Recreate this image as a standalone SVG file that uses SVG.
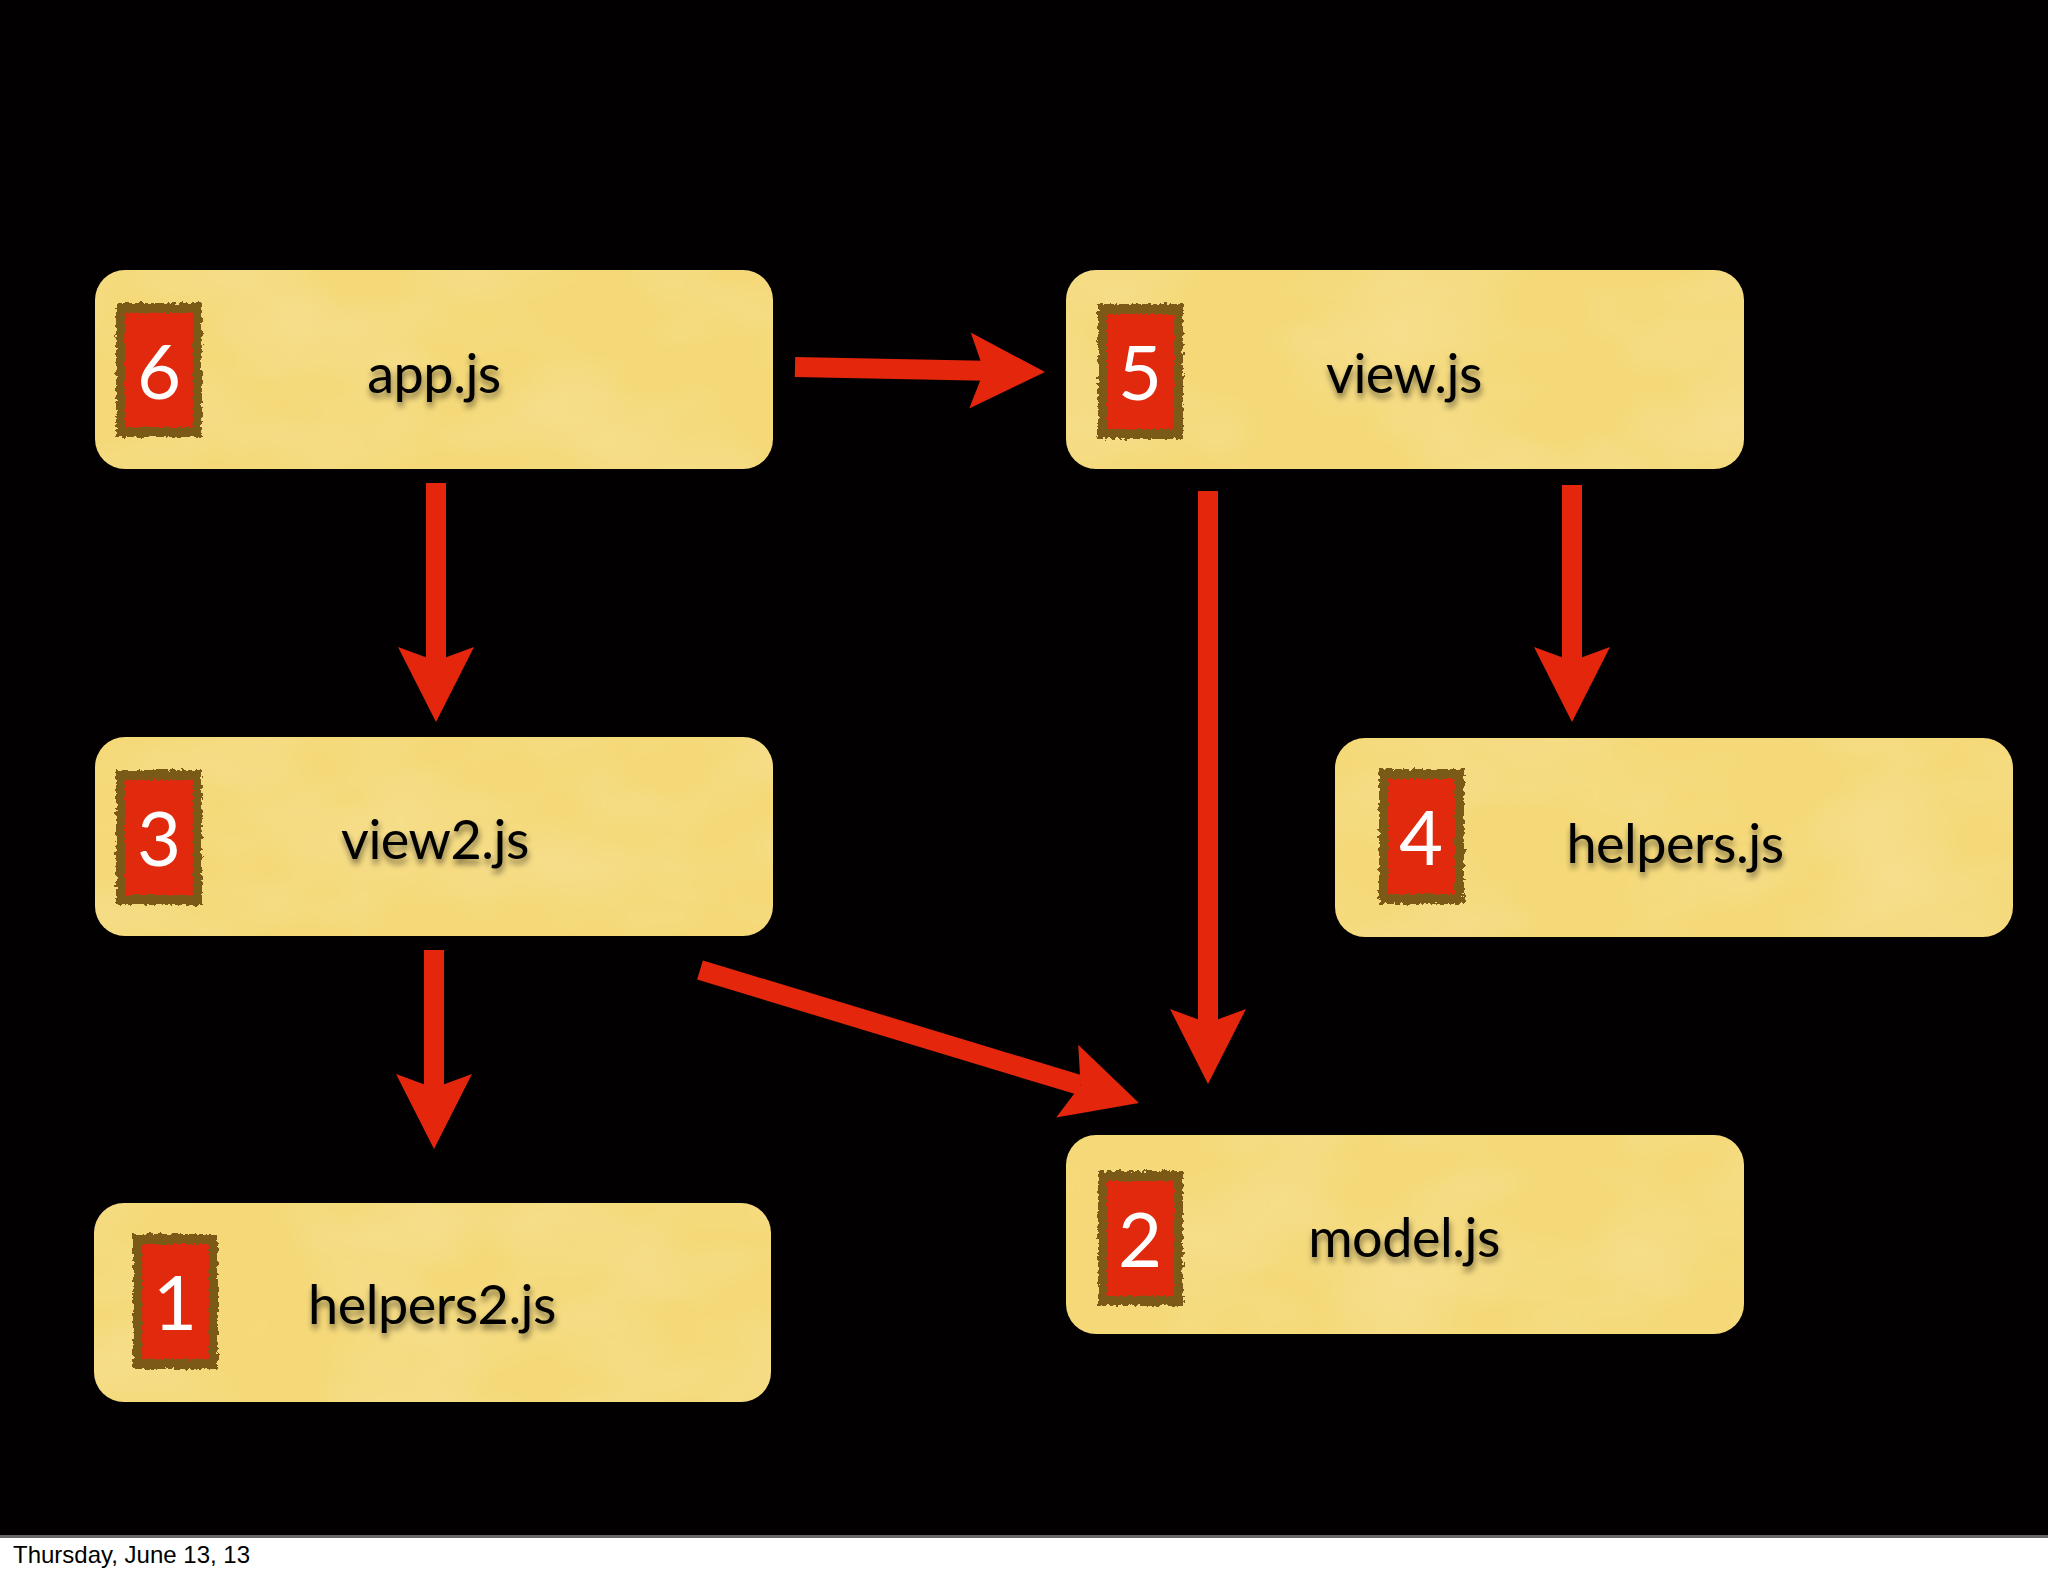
<svg xmlns="http://www.w3.org/2000/svg" width="2048" height="1576" viewBox="0 0 2048 1576">
<defs>
<style>
.tex{fill:#f5d979;filter:url(#paper);}
.frame{fill:#7a5a12;filter:url(#rough);}
.inner{fill:#e1290b;filter:url(#rough2);}
.num{font-family:Lato,"Noto Sans",sans-serif;font-size:76px;fill:#ffffff;text-anchor:middle;}
.lbl{font-family:Lato,"Noto Sans",sans-serif;font-size:54px;letter-spacing:-0.5px;fill:#000000;text-anchor:middle;filter:url(#tshadow);}
.arrow{stroke:#e3260c;stroke-width:20;fill:none;marker-end:url(#head);}
.foot{font-family:"Liberation Sans",Arial,sans-serif;font-size:24px;fill:#000000;}
</style>
<marker id="head" markerUnits="userSpaceOnUse" viewBox="0 -40 80 80" markerWidth="80" markerHeight="80" refX="14" refY="0" orient="auto" overflow="visible">
<path d="M0,-38 L75,0 L0,38 L14,0 Z" fill="#e3260c"/>
</marker>
<filter id="paper" x="0" y="0" width="1" height="1">
<feTurbulence type="fractalNoise" baseFrequency="0.006 0.01" numOctaves="3" seed="4" result="n"/>
<feColorMatrix in="n" type="matrix" values="0 0 0 0 0.93  0 0 0 0 0.81  0 0 0 0 0.42  0 0 0 -0.7 0.42" result="c"/>
<feComposite in="c" in2="SourceGraphic" operator="in" result="m"/>
<feMerge><feMergeNode in="SourceGraphic"/><feMergeNode in="m"/></feMerge>
</filter>
<filter id="rough" x="-10%" y="-10%" width="120%" height="120%">
<feTurbulence type="fractalNoise" baseFrequency="0.25" numOctaves="2" seed="2" result="t"/>
<feDisplacementMap in="SourceGraphic" in2="t" scale="7" xChannelSelector="R" yChannelSelector="G"/>
</filter>
<filter id="rough2" x="-10%" y="-10%" width="120%" height="120%">
<feTurbulence type="fractalNoise" baseFrequency="0.3" numOctaves="2" seed="7" result="t"/>
<feDisplacementMap in="SourceGraphic" in2="t" scale="5" xChannelSelector="R" yChannelSelector="G"/>
</filter>
<filter id="tshadow" x="-10%" y="-20%" width="120%" height="150%">
<feGaussianBlur in="SourceAlpha" stdDeviation="3"/>
<feOffset dx="1" dy="5" result="b"/>
<feComponentTransfer in="b" result="s"><feFuncA type="linear" slope="0.5"/></feComponentTransfer>
<feMerge><feMergeNode in="s"/><feMergeNode in="SourceGraphic"/></feMerge>
</filter>
</defs>
<rect x="0" y="0" width="2048" height="1576" fill="#ffffff"/>
<rect x="0" y="0" width="2048" height="1537" fill="#020001"/>
<rect x="0" y="1535" width="2048" height="3" fill="#666666"/>

<g id="node-app">
<rect class="tex" x="95" y="270" width="678" height="199" rx="30"/>
<rect class="frame" x="116" y="303" width="86" height="134"/>
<rect class="inner" x="125" y="313" width="68" height="114"/>
<text class="num" x="159" y="399">6</text>
<text class="lbl" x="434" y="393">app.js</text>
</g>

<g id="node-view">
<rect class="tex" x="1066" y="270" width="678" height="199" rx="30"/>
<rect class="frame" x="1098" y="304" width="85" height="135"/>
<rect class="inner" x="1107" y="314" width="67" height="115"/>
<text class="num" x="1140" y="400">5</text>
<text class="lbl" x="1404" y="393">view.js</text>
</g>

<g id="node-view2">
<rect class="tex" x="95" y="737" width="678" height="199" rx="30"/>
<rect class="frame" x="116" y="770" width="86" height="135"/>
<rect class="inner" x="125" y="780" width="68" height="115"/>
<text class="num" x="159" y="866">3</text>
<text class="lbl" x="435" y="859">view2.js</text>
</g>

<g id="node-helpers">
<rect class="tex" x="1335" y="738" width="678" height="199" rx="30"/>
<rect class="frame" x="1379" y="769" width="85" height="135"/>
<rect class="inner" x="1388" y="779" width="67" height="115"/>
<text class="num" x="1421" y="865">4</text>
<text class="lbl" x="1675" y="863">helpers.js</text>
</g>

<g id="node-helpers2">
<rect class="tex" x="94" y="1203" width="677" height="199" rx="30"/>
<rect class="frame" x="133" y="1234" width="85" height="135"/>
<rect class="inner" x="142" y="1244" width="67" height="115"/>
<text class="num" x="175" y="1330">1</text>
<text class="lbl" x="432" y="1324">helpers2.js</text>
</g>

<g id="node-model">
<rect class="tex" x="1066" y="1135" width="678" height="199" rx="30"/>
<rect class="frame" x="1098" y="1171" width="85" height="135"/>
<rect class="inner" x="1107" y="1181" width="67" height="115"/>
<text class="num" x="1140" y="1267">2</text>
<text class="lbl" x="1404" y="1257">model.js</text>
</g>

<g id="connectors">
<line class="arrow" x1="795" y1="367" x2="984" y2="370.8"/>
<line class="arrow" x1="436" y1="483" x2="436" y2="661"/>
<line class="arrow" x1="1208" y1="491" x2="1208" y2="1023"/>
<line class="arrow" x1="1572" y1="485" x2="1572" y2="661"/>
<line class="arrow" x1="434" y1="950" x2="434" y2="1088"/>
<line class="arrow" x1="700" y1="970" x2="1080.6" y2="1085.3"/>
</g>

<text class="foot" x="13" y="1563">Thursday, June 13, 13</text>
</svg>
